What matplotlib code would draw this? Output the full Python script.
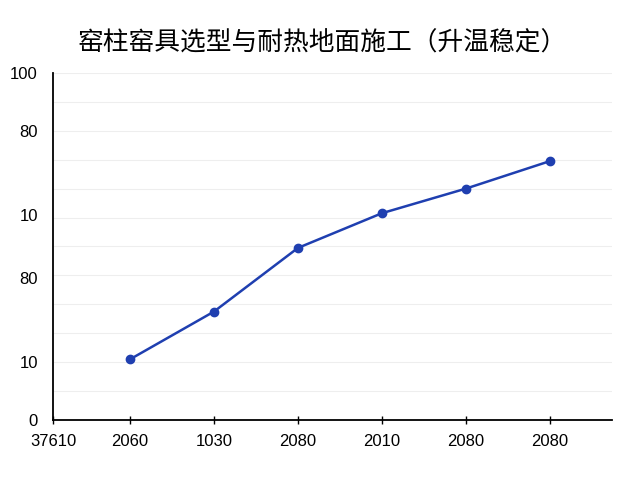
import matplotlib.pyplot as plt
import numpy as np

plt.rcParams['font.family'] = ['Noto Sans CJK SC', 'DejaVu Sans']

title = "窑柱窑具选型与耐热地面施工（升温稳定）"
x_labels = ["37610", "2060", "1030", "2080", "2010", "2080", "2080"]
values = [21, 37.5, 59.5, 71.5, 80, 89.5]
y_ticks = [0, 20, 49, 71, 100, 120]
y_labels = ["0", "10", "80", "10", "80", "100"]
grid_levels = np.arange(10, 121, 10)

fig = plt.figure(figsize=(6.4, 4.8), dpi=100)
ax = fig.add_axes([0.083, 0.125, 0.873, 0.723])

xs = np.arange(1, len(values) + 1)
ax.plot(xs, values, color="#1f3fb0", lw=1.8, marker="o", ms=6, zorder=3)

# faint horizontal grid every 10 units, independent of tick labels
for g in grid_levels:
    ax.axhline(g, color="#eeeeee", lw=0.8, zorder=0)

ax.set_xlim(0.083, 6.74)
ax.set_ylim(0, 120)

ax.set_xticks(np.concatenate([[0.083], xs]))
ax.set_xticklabels(x_labels, fontsize=12, family="Liberation Sans")
ax.set_yticks(y_ticks)
ax.set_yticklabels(y_labels, fontsize=12, family="Liberation Sans")

ax.tick_params(axis="x", direction="inout", length=6, width=1, pad=7)
ax.tick_params(axis="y", length=0, pad=11)

for s in ["top", "right"]:
    ax.spines[s].set_visible(False)
for s in ["left", "bottom"]:
    ax.spines[s].set_linewidth(1.3)
    ax.spines[s].set_color("black")

fig.text(0.503, 0.91, title, ha="center", va="center", fontsize=18.5)

fig.savefig("out.png", dpi=100)
